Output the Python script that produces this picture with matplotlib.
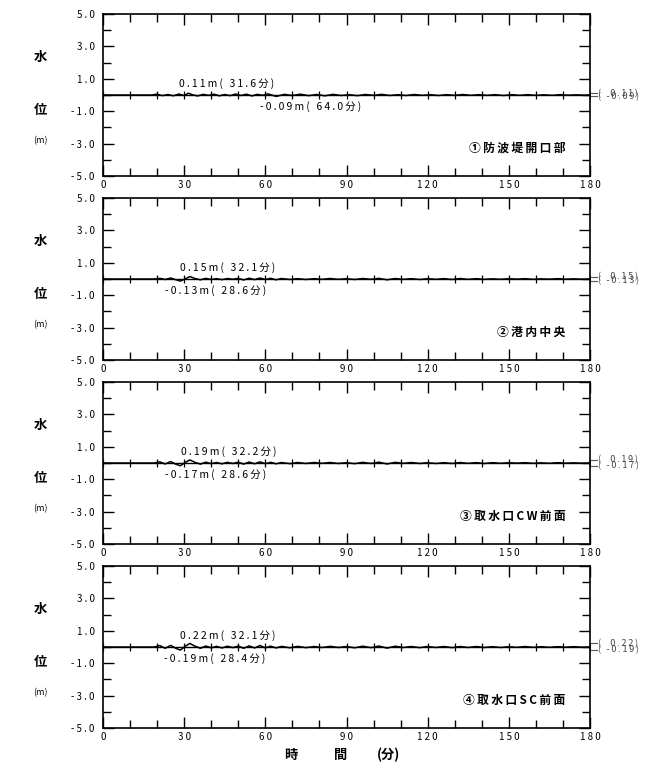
import matplotlib
matplotlib.use("Agg")
import matplotlib.pyplot as plt
from matplotlib.ticker import MultipleLocator, FixedLocator
import numpy as np

plt.rcParams['font.family'] = ['Noto Sans CJK JP', 'DejaVu Sans']

# --- data ---
t1 = [0, 18, 20, 22, 24, 26, 28, 30, 31.6,
      33, 35, 37, 39, 41, 43, 45, 47, 49, 51, 53, 55, 57, 59, 61,
      64.0,
      67, 70, 73, 76, 79, 82, 85, 88, 91, 94, 97, 100, 103, 106, 109, 112,
      115, 118, 121, 124, 127, 130, 133, 136, 139, 142, 145, 148, 151, 154,
      157, 160, 163, 166, 169, 172, 175, 178,
      180]
v1 = [0, 0, 0.05, -0.04, 0.03, -0.05, 0.06, -0.03, 0.11,
      0.02, -0.06, 0.04, -0.02, 0.05, -0.05, 0.03, -0.04, 0.06, -0.03, 0.05,
      -0.06, 0.04, -0.02, 0.07,
      -0.09,
      0.04, -0.03, 0.05, -0.04, 0.03, -0.05, 0.04, -0.03, 0.02, -0.04, 0.03,
      -0.02, 0.04, -0.03, 0.02, -0.03, 0.03, -0.02, 0.02, -0.03, 0.02, -0.02,
      0.03, -0.02, 0.02, -0.02, 0.02, -0.03, 0.02, -0.02, 0.02, -0.02, 0.01,
      -0.02, 0.02, -0.01, 0.01, -0.01,
      0]

t_b = [0, 19, 21, 23, 25, 27, 28.6, 30.5, 32.1,
       34, 36, 38, 40, 42, 44, 46, 48, 50, 52, 54, 56, 58, 60, 62, 64, 66,
       69, 72, 75, 78, 81, 84, 87, 90, 93, 96, 99, 102, 105, 108, 111, 114,
       117, 120, 123, 126, 129, 132, 135, 138, 141, 144, 147, 150, 153, 156,
       159, 162, 165, 168, 171, 174, 177, 180]
v2 = [0, 0, 0.04, -0.03, 0.06, -0.05, -0.13, 0.02, 0.15,
      0.03, -0.05, 0.04, -0.03, 0.02, -0.04, 0.03, -0.02, 0.04, -0.06, 0.05,
      -0.04, 0.06, -0.03, 0.04, -0.05, 0.03,
      -0.03, 0.02, -0.03, 0.02, -0.02, 0.03, -0.02, 0.02, -0.03, 0.03, -0.02,
      0.04, -0.05, 0.03, -0.02, 0.02, -0.03, 0.02, -0.02, 0.02, -0.03, 0.03,
      -0.02, 0.02, -0.02, 0.01, -0.02, 0.02, -0.01, 0.02, -0.02, 0.01, -0.01,
      0.02, -0.01, 0.01, -0.01, 0]
v3 = [0, 0, 0.07, -0.06, 0.09, -0.08, -0.17, 0.05, 0.19,
      0.04, -0.07, 0.05, -0.04, 0.03, -0.05, 0.04, -0.03, 0.05, -0.07, 0.06,
      -0.05, 0.07, -0.04, 0.04, -0.05, 0.03,
      -0.04, 0.03, -0.03, 0.03, -0.02, 0.03, -0.03, 0.02, -0.04, 0.04, -0.03,
      0.05, -0.06, 0.04, -0.02, 0.03, -0.03, 0.02, -0.03, 0.02, -0.03, 0.03,
      -0.02, 0.02, -0.03, 0.02, -0.02, 0.02, -0.01, 0.02, -0.02, 0.01, -0.02,
      0.02, -0.01, 0.01, -0.01, 0]
v4 = [0, 0, 0.09, -0.08, 0.10, -0.09, -0.19, 0.06, 0.22,
      0.05, -0.08, 0.06, -0.05, 0.04, -0.06, 0.05, -0.04, 0.06, -0.08, 0.07,
      -0.06, 0.09, -0.05, 0.05, -0.06, 0.04,
      -0.05, 0.04, -0.04, 0.03, -0.03, 0.04, -0.03, 0.03, -0.05, 0.05, -0.04,
      0.06, -0.07, 0.05, -0.03, 0.03, -0.04, 0.03, -0.03, 0.03, -0.04, 0.03,
      -0.03, 0.03, -0.03, 0.02, -0.03, 0.02, -0.02, 0.03, -0.02, 0.02, -0.02,
      0.02, -0.01, 0.02, -0.01, 0]

panel_names = ["①防波堤開口部", "②港内中央", "③取水口CW前面", "④取水口SC前面"]
max_vals = [0.11, 0.15, 0.19, 0.22]
max_times = [31.6, 32.1, 32.2, 32.1]
min_vals = [-0.09, -0.13, -0.17, -0.19]
min_times = [64.0, 28.6, 28.6, 28.4]
series = [(t1, v1), (t_b, v2), (t_b, v3), (t_b, v4)]

y_ticks = [5, 3, 1, -1, -3, -5]
x_ticks = [0, 30, 60, 90, 120, 150, 180]


def spaced(s, sep=" "):
    return sep.join(list(s))


W, H = 665, 772
fig = plt.figure(figsize=(W / 100, H / 100), dpi=100)

for i, (t, v) in enumerate(series):
    top = 14 + 184 * i
    ax = fig.add_axes([103 / W, 1 - (top + 162) / H, 487 / W, 162 / H])
    ax.set_xlim(0, 180)
    ax.set_ylim(-5, 5)

    ax.plot(t, v, color='black', lw=1.1)
    ax.axhline(0, color='black', lw=1.0)
    # small crosses along the zero line
    ax.plot(np.arange(0, 181, 10), np.zeros(19), ls='none', marker='|',
            ms=6, mew=0.9, color='black')

    ax.xaxis.set_major_locator(FixedLocator(x_ticks))
    ax.xaxis.set_minor_locator(MultipleLocator(10))
    ax.yaxis.set_major_locator(FixedLocator(y_ticks))
    ax.yaxis.set_minor_locator(MultipleLocator(1))
    ax.tick_params(which='both', direction='in', top=True, right=True,
                   width=1.0, color='black')
    ax.tick_params(which='major', length=8)
    ax.tick_params(which='minor', length=6)
    ax.tick_params(axis='y', pad=6, labelsize=7)
    ax.tick_params(axis='x', pad=3, labelsize=7)
    ax.set_yticklabels([spaced(f"{y:.1f}") for y in y_ticks])
    ax.set_xticklabels([spaced(str(x)) for x in x_ticks])
    for sp in ax.spines.values():
        sp.set_linewidth(1.2)

    # max / min annotations
    ax.text(max_times[i] - 3.5, 0.72,
            spaced(f"{max_vals[i]:.2f}m( {max_times[i]:.1f}分)", "\u2009"),
            fontsize=7.5, va='center', ha='left')
    ax.text(min_times[i] - 5.8, -0.74,
            spaced(f"{min_vals[i]:.2f}m( {min_times[i]:.1f}分)", "\u2009"),
            fontsize=7.5, va='center', ha='left')

    # right-edge max/min markers (labels overlap as in the original plot)
    tr = ax.get_yaxis_transform()
    for val in (max_vals[i], min_vals[i]):
        ax.plot([1.0, 1.014], [val, val], transform=tr, color='#555555',
                lw=0.8, clip_on=False)
        ax.text(1.016, val, spaced(f"( {val:5.2f})", "\u2009"), transform=tr,
                fontsize=6.5, va='center', ha='left', color='#444444')

    ax.text(171, -3.3, spaced(panel_names[i], "\u2009"), fontsize=8.5,
            fontweight='bold', ha='right', va='center')

    # y label
    fig.text(40 / W, 1 - (top + 43) / H, "水", fontsize=9.5,
             fontweight='bold', ha='center', va='center')
    fig.text(40 / W, 1 - (top + 96) / H, "位", fontsize=9.5,
             fontweight='bold', ha='center', va='center')
    fig.text(40 / W, 1 - (top + 127) / H, "(m)", fontsize=6.5, ha='center',
             va='center')

fig.text(291 / W, 1 - 755 / H, "時", fontsize=9.5, fontweight='bold',
         ha='center', va='center')
fig.text(341 / W, 1 - 755 / H, "間", fontsize=9.5, fontweight='bold',
         ha='center', va='center')
fig.text(388 / W, 1 - 755 / H, "(分)", fontsize=9.5, fontweight='bold',
         ha='center', va='center')

fig.savefig("out.png", dpi=100)
